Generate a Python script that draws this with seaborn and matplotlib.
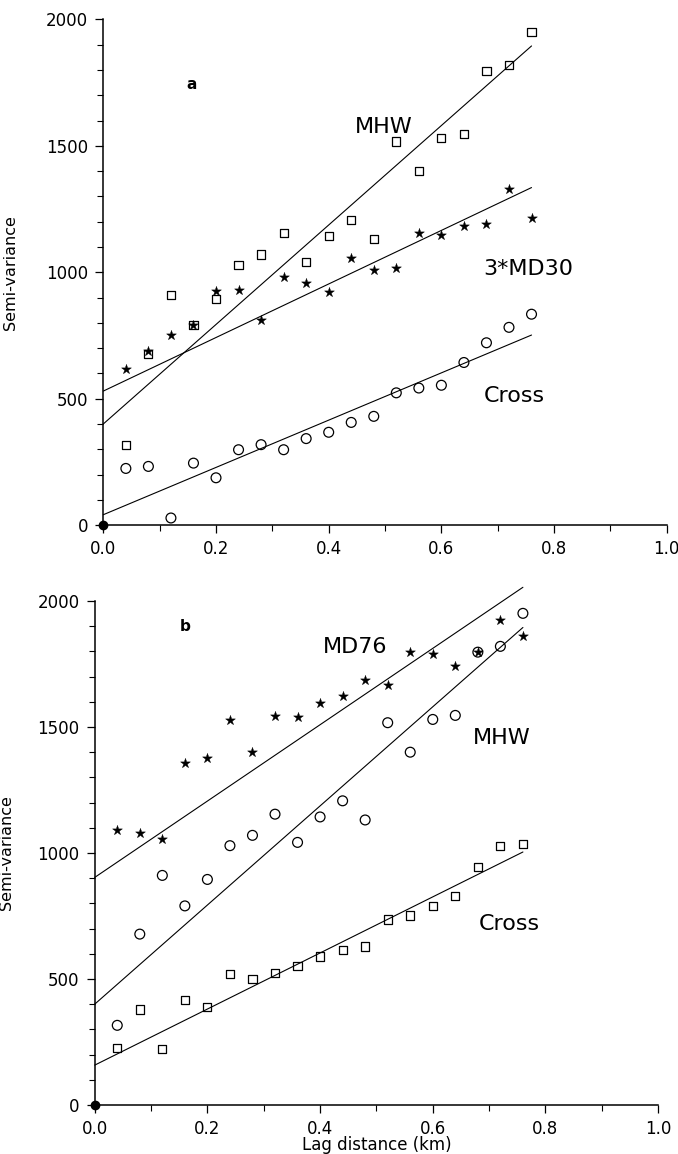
import numpy as np
import pandas as pd
import seaborn as sns
import matplotlib.pyplot as plt
from matplotlib.ticker import MultipleLocator

# lag distances (km)
lags = [0.04, 0.08, 0.12, 0.16, 0.20, 0.24, 0.28, 0.32, 0.36, 0.40,
        0.44, 0.48, 0.52, 0.56, 0.60, 0.64, 0.68, 0.72, 0.76]

# experimental semi-variances
mhw = [316, 678, 911, 790, 895, 1029, 1070, 1154, 1042, 1143,
       1207, 1131, 1517, 1400, 1530, 1546, 1797, 1820, 1951]
md30x3 = [617, 690, 752, 790, 927, 928, 812, 983, 958, 922,
          1055, 1007, 1018, 1155, 1148, 1184, 1189, 1330, 1215]
cross_a = [224, 232, 28, 245, 187, 298, 318, 298, 342, 367,
           406, 430, 523, 542, 553, 643, 721, 782, 834]
md76 = [1090, 1080, 1055, 1356, 1375, 1526, 1401, 1544, 1541, 1595,
        1623, 1685, 1665, 1797, 1788, 1741, 1797, 1923, 1863]
cross_b = [227, 379, 223, 416, 389, 521, 500, 524, 553, 589,
           615, 629, 736, 752, 788, 830, 944, 1026, 1036]

# fitted linear models: (nugget, slope per km)
fit_mhw = (400, 1967)
fit_md30 = (530, 1059)
fit_cross_a = (41, 935)
fit_md76 = (903, 1515)
fit_cross_b = (158, 1113)

sns.set_style("ticks")
plt.rcParams['font.family'] = ['DejaVu Sans']
plt.rcParams['text.color'] = 'black'
plt.rcParams['axes.labelcolor'] = 'black'
plt.rcParams['xtick.color'] = 'black'
plt.rcParams['ytick.color'] = 'black'

fig = plt.figure(figsize=(6.78, 11.54), dpi=100)
ax_a = fig.add_axes([0.1524, 0.545, 0.831, 0.4382])
ax_b = fig.add_axes([0.1397, 0.0425, 0.831, 0.4367])


def points(ax, y, marker, size, filled=False):
    df = pd.DataFrame({"lag": lags, "gamma": y})
    if filled:
        sns.scatterplot(data=df, x="lag", y="gamma", ax=ax, marker=marker,
                        s=size, color="black", edgecolor="black", linewidth=0.3)
    else:
        sns.scatterplot(data=df, x="lag", y="gamma", ax=ax, marker=marker,
                        s=size, facecolors="none", edgecolor="black", linewidth=0.9)


def model(ax, fit):
    x = np.array([0.0, lags[-1]])
    df = pd.DataFrame({"lag": x, "gamma": fit[0] + fit[1] * x})
    sns.lineplot(data=df, x="lag", y="gamma", ax=ax, color="black", lw=0.8,
                 clip_on=False)


def style(ax, ylab_x):
    ax.set_xlim(0, 1.0)
    ax.set_ylim(0, 2000)
    ax.xaxis.set_major_locator(MultipleLocator(0.2))
    ax.xaxis.set_minor_locator(MultipleLocator(0.1))
    ax.yaxis.set_major_locator(MultipleLocator(500))
    ax.yaxis.set_minor_locator(MultipleLocator(100))
    ax.xaxis.set_major_formatter(lambda v, p: f"{v:.1f}")
    ax.tick_params(which="major", direction="out", length=6, width=0.9,
                   labelsize=12, pad=5, color="black")
    ax.tick_params(which="minor", direction="out", length=4.3, width=0.8,
                   color="black")
    for s in ["top", "right"]:
        ax.spines[s].set_visible(False)
    for s in ["left", "bottom"]:
        ax.spines[s].set_linewidth(1.1)
        ax.spines[s].set_color("black")
    ax.set_ylabel("Semi-variance", fontsize=11.5)
    ax.yaxis.set_label_coords(ylab_x, 0.5)
    ax.set_xlabel("")
    ax.plot([0], [0], marker="o", ms=6, color="black", clip_on=False, zorder=5)


# panel a
points(ax_a, mhw, "s", 34)
points(ax_a, md30x3, "*", 55, filled=True)
points(ax_a, cross_a, "o", 50)
model(ax_a, fit_mhw)
model(ax_a, fit_md30)
model(ax_a, fit_cross_a)
style(ax_a, -0.152)
ax_a.text(0.157, 1741, "a", fontsize=11, fontweight="bold", ha="center", va="center")
ax_a.text(0.497, 1576, "MHW", fontsize=16, ha="center", va="center")
ax_a.text(0.755, 1012, "3*MD30", fontsize=16, ha="center", va="center")
ax_a.text(0.73, 511, "Cross", fontsize=16, ha="center", va="center")

# panel b
points(ax_b, md76, "*", 55, filled=True)
points(ax_b, mhw, "o", 50)
points(ax_b, cross_b, "s", 34)
model(ax_b, fit_md76)
model(ax_b, fit_mhw)
model(ax_b, fit_cross_b)
style(ax_b, -0.143)
ax_b.set_xlabel("Lag distance (km)", fontsize=12)
ax_b.xaxis.set_label_coords(0.5, -0.062)
ax_b.text(0.16, 1897, "b", fontsize=11, fontweight="bold", ha="center", va="center")
ax_b.text(0.463, 1818, "MD76", fontsize=16, ha="center", va="center")
ax_b.text(0.722, 1458, "MHW", fontsize=16, ha="center", va="center")
ax_b.text(0.736, 719, "Cross", fontsize=16, ha="center", va="center")

fig.savefig("out.png", dpi=100)
